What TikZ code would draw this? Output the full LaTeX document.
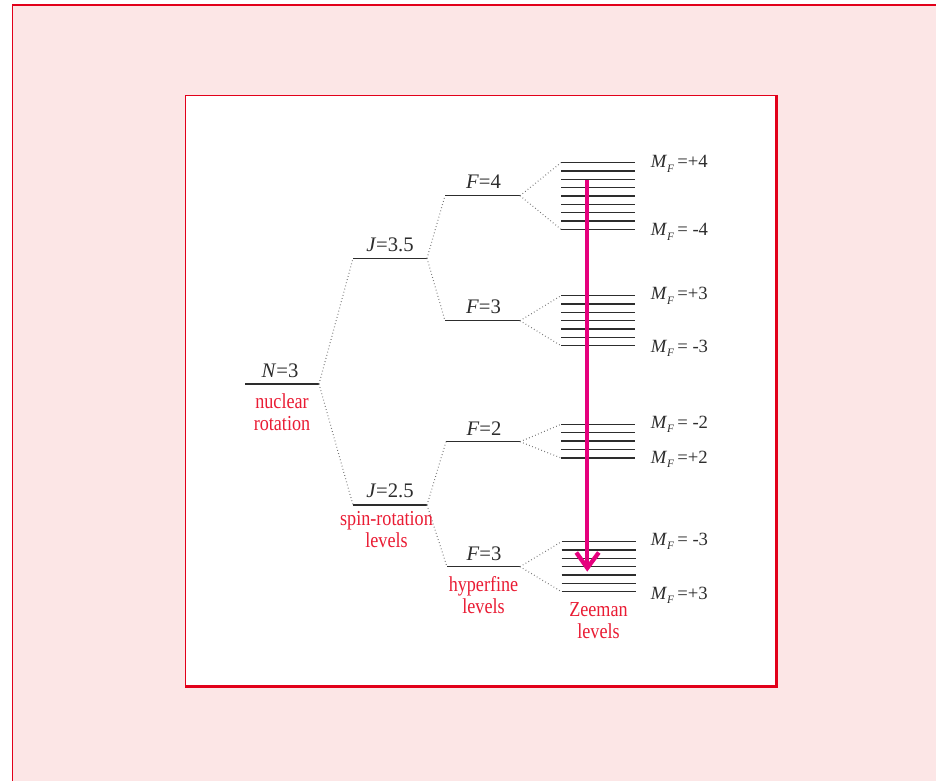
\documentclass[tikz,border=0pt]{standalone}
\usepackage{fontspec}
\setmainfont{Liberation Serif}
\newfontfamily\redf{Liberation Serif}[FakeStretch=0.85]
\usetikzlibrary{calc}
\definecolor{bgpink}{RGB}{252,230,230}
\definecolor{fred}{RGB}{226,0,26}
\definecolor{tred}{RGB}{234,28,52}
\definecolor{mag}{RGB}{229,0,125}
\definecolor{ink}{RGB}{45,45,45}
\newcommand{\mflab}[1]{\textit{M}\raisebox{-0.5ex}{\fontsize{8.5}{9}\selectfont\textit{F}}\,#1}
\begin{document}
\begin{tikzpicture}[x=0.75pt,y=-0.75pt,
  level/.style={draw=ink, line width=1.1pt},
  zline/.style={draw=ink, line width=1.15pt},
  dots/.style={draw=black!55, line width=0.8pt, dash pattern=on 0.55pt off 1.9pt},
  lab/.style={font=\fontsize{15.5}{17}\selectfont, text=ink, inner sep=0pt, anchor=base},
  rlab/.style={font=\redf\fontsize{16}{16.5}\selectfont, text=tred, align=center, inner sep=0pt, anchor=north},
  mlab/.style={font=\fontsize{14}{15}\selectfont, text=ink, anchor=base west, inner sep=0pt},
  arr/.style={draw=mag, line width=3.2pt, line cap=butt, line join=miter}]
\useasboundingbox (0,0) rectangle (936,781);
% backgrounds
\fill[white] (0,0) rectangle (936,781);
\fill[bgpink] (12.5,5) rectangle (936,781);
\draw[fred, line width=1.5pt] (12,5) -- (936,5);
\draw[fred, line width=1pt] (12.5,4.2) -- (12.5,781);
\fill[white] (185.5,95.5) rectangle (776.5,686.5);
\draw[fred, line width=0.9pt] (185.5,686.5) -- (185.5,95.5) -- (776.5,95.5);
\draw[fred, line width=1.9pt] (776.5,95) -- (776.5,686.5) -- (185,686.5);

% level coordinates
\coordinate (Nl) at (245,384);   \coordinate (Nr) at (319,384);
\coordinate (Jal) at (353,258.3); \coordinate (Jar) at (427,258.3);
\coordinate (Jbl) at (353,505);   \coordinate (Jbr) at (427,505);
\coordinate (Fal) at (445,195.7); \coordinate (Far) at (520,195.7);
\coordinate (Fbl) at (445,320.7); \coordinate (Fbr) at (520,320.7);
\coordinate (Fcl) at (446,441.7); \coordinate (Fcr) at (520,441.7);
\coordinate (Fdl) at (447,566.7); \coordinate (Fdr) at (520,566.7);

\foreach \a/\b in {Nl/Nr,Jal/Jar,Jbl/Jbr,Fal/Far,Fbl/Fbr,Fcl/Fcr,Fdl/Fdr}
  \draw[level] (\a) -- (\b);

% Zeeman levels
\foreach \i in {0,...,8} {
  \coordinate (za\i l) at (561,162.7+8.33*\i); \coordinate (za\i r) at (635,162.7+8.33*\i);
  \draw[zline] (za\i l) -- (za\i r);}
\foreach \i in {0,...,6} {
  \coordinate (zb\i l) at (561,295.7+8.33*\i); \coordinate (zb\i r) at (635,295.7+8.33*\i);
  \draw[zline] (zb\i l) -- (zb\i r);}
\foreach \i in {0,...,4} {
  \coordinate (zc\i l) at (561,424.3+8.42*\i); \coordinate (zc\i r) at (635,424.3+8.42*\i);
  \draw[zline] (zc\i l) -- (zc\i r);}
\foreach \i in {0,...,6} {
  \coordinate (zd\i l) at (561.5,541.7+8.33*\i); \coordinate (zd\i r) at (635.5,541.7+8.33*\i);
  \draw[zline] (zd\i l) -- (zd\i r);}

% dotted connectors
\draw[dots] (Nr) -- (Jal);
\draw[dots] (Nr) -- (Jbl);
\draw[dots] (Jar) -- (Fal);
\draw[dots] (Jar) -- (Fbl);
\draw[dots] (Jbr) -- (Fcl);
\draw[dots] (Jbr) -- (Fdl);
\draw[dots] (Far) -- (za0l);
\draw[dots] (Far) -- (za8l);
\draw[dots] (Fbr) -- (zb0l);
\draw[dots] (Fbr) -- (zb6l);
\draw[dots] (Fcr) -- (zc0l);
\draw[dots] (Fcr) -- (zc4l);
\draw[dots] (Fdr) -- (zd0l);
\draw[dots] (Fdr) -- (zd6l);

% black labels
\node[lab] (tN) at (280,377) {\textit{N}=3};
\node[lab] (tJa) at (390,251.5) {\textit{J}=3.5};
\node[lab] (tJb) at (390,497.5) {\textit{J}=2.5};
\node[lab] (tFa) at (483.5,189) {\textit{F}=4};
\node[lab] (tFb) at (483.5,314) {\textit{F}=3};
\node[lab] (tFc) at (484,435.5) {\textit{F}=2};
\node[lab] (tFd) at (484,560.5) {\textit{F}=3};

% red labels
\node[rlab] (rN) at (282,393.5) {nuclear\\rotation};
\node[rlab] (rJ) at (386.5,511.5) {spin-rotation\\levels};
\node[rlab] (rF) at (483.5,576) {hyperfine\\levels};
\node[rlab] (rZ) at (598.5,602.5) {Zeeman\\levels};

% M_F labels
\node[mlab] (m1) at (650.5,168) {\mflab{=+4}};
\node[mlab] (m2) at (650.5,236) {\mflab{= -4}};
\node[mlab] (m3) at (650.5,300) {\mflab{=+3}};
\node[mlab] (m4) at (650.5,352) {\mflab{= -3}};
\node[mlab] (m5) at (650.5,428.5) {\mflab{= -2}};
\node[mlab] (m6) at (650.5,463.5) {\mflab{=+2}};
\node[mlab] (m7) at (650.5,545.5) {\mflab{= -3}};
\node[mlab] (m8) at (650.5,599) {\mflab{=+3}};

% arrow
\coordinate (aS) at (587.3,180);
\coordinate (aE) at (587.3,568);
\draw[arr] (aS) -- (aE);
\draw[arr] ($(aE)+(-11,-15.5)$) -- (aE) -- ($(aE)+(11.5,-15.5)$);
\end{tikzpicture}
\end{document}
